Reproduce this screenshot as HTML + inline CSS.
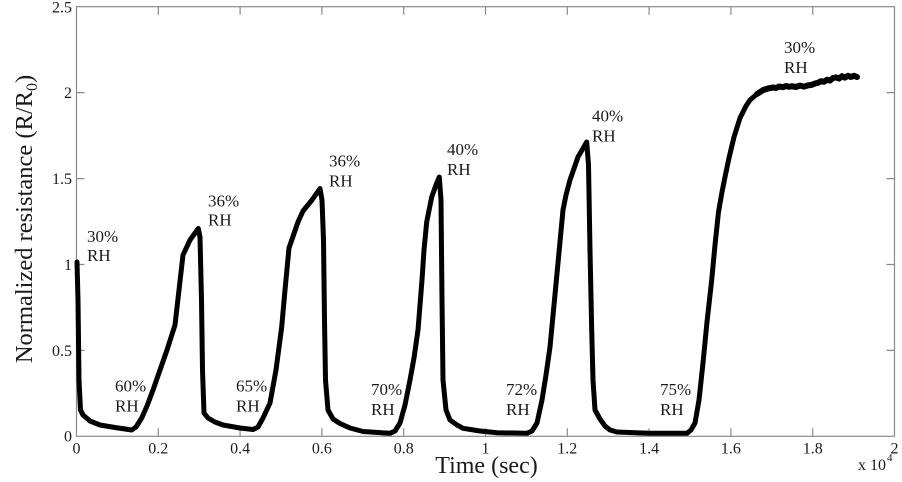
<!DOCTYPE html>
<html>
<head>
<meta charset="utf-8">
<style>
  html, body { margin: 0; padding: 0; background: #ffffff; }
  svg { display: block; }
  text { font-family: "Liberation Serif", "Times New Roman", serif; fill: #1a1a1a; }
</style>
</head>
<body>
<svg width="902" height="482" viewBox="0 0 902 482" xmlns="http://www.w3.org/2000/svg">
  <rect x="0" y="0" width="902" height="482" fill="#ffffff"/>

  <!-- axes box -->
  <g stroke="#8a8a8a" stroke-width="1.2" fill="none">
    <rect x="76.5" y="6.7" width="818" height="429.6"/>
    <path d="M158.3,436.3 v-8 M240.1,436.3 v-8 M321.9,436.3 v-8 M403.7,436.3 v-8 M485.5,436.3 v-8 M567.3,436.3 v-8 M649.1,436.3 v-8 M730.9,436.3 v-8 M812.7,436.3 v-8
             M158.3,6.7 v8 M240.1,6.7 v8 M321.9,6.7 v8 M403.7,6.7 v8 M485.5,6.7 v8 M567.3,6.7 v8 M649.1,6.7 v8 M730.9,6.7 v8 M812.7,6.7 v8"/>
    <path d="M76.5,350.4 h8 M76.5,264.5 h8 M76.5,178.6 h8 M76.5,92.6 h8
             M894.5,350.4 h-8 M894.5,264.5 h-8 M894.5,178.6 h-8 M894.5,92.6 h-8"/>
  </g>

  <!-- data curve -->
  <path fill="none" stroke="#000" stroke-width="5" stroke-linejoin="round" stroke-linecap="round"
    d="M77,262 L78,300 L79,380 L80.5,410 L83,415 L90,421 L100,425 L115,427.5 L131.7,430
       L136,427 L141.7,418 L147,406 L153,390 L160,370 L167,350 L175,325 L179,290 L183,255 L190,240 L198.3,228.5
       L200,237 L201.5,300 L202.5,370 L204,413 L208,418 L215,422 L223,425 L240,428 L253,429.5
       L258,427 L263,418 L270,403 L276,370 L281.7,327 L285,290 L289,248 L298,222 L303,211 L312,200 L320,188.5
       L322,200 L323.5,240 L324.5,320 L325.5,380 L328,410 L333,419 L340,423.5 L350,428 L363,431.5 L390,433.3
       L395,431 L400,423 L405,405 L410,380 L414,358 L418,330 L420,305 L422,280 L424,250 L426.7,222 L431.7,197 L436,185 L439.3,177
       L441,200 L442,300 L443,380 L446,410 L450,420 L457,425 L463,428.3 L480,431 L497,432.7 L527,433.3
       L532,431 L537,423 L542,400 L546,375 L550,347 L554,305 L558,263 L563,210 L566,195 L570,180 L578,157 L586.7,142
       L588.5,165 L590,250 L591.7,330 L593,380 L595,410 L600,419 L605,426 L610,430 L617,432 L650,433.3 L687,433.3
       L691,430 L695,423 L699,400 L703,363 L707,322 L711.7,280 L715,245 L718.5,212 L722,192 L725,177 L729,158 L734,137 L740,118 L746,106 L750,100 L757,94 L763.3,90"/>
  <!-- noisy plateau, thicker -->
  <path fill="none" stroke="#000" stroke-width="6" stroke-linejoin="round" stroke-linecap="round"
    d="M757,94 L763.3,90 L768,88.5 L773,87.5 L776,88 L779,86.5 L783,87.2 L786,86 L789,86.8 L792,86.2 L796,87 L800,85.6 L804,86.6 L808,85.4 L812,84.8 L815,83.5 L818,82.8 L821,81.2 L824,81.8 L827,79.8 L830,80.6 L833,78 L836,77.4 L839,78.6 L842,76.2 L845,77.6 L848,75.8 L851,77 L854,75.8 L857,77"/>

  <!-- RH annotations -->
  <g font-size="17">
    <text x="87" y="242">30%</text><text x="87" y="261">RH</text>
    <text x="115" y="391.5">60%</text><text x="115" y="411.5">RH</text>
    <text x="208" y="206.5">36%</text><text x="208" y="225.5">RH</text>
    <text x="236" y="391.5">65%</text><text x="236" y="411.5">RH</text>
    <text x="329" y="166.5">36%</text><text x="329" y="186.5">RH</text>
    <text x="447" y="155">40%</text><text x="447" y="175">RH</text>
    <text x="371" y="395">70%</text><text x="371" y="415">RH</text>
    <text x="506" y="395">72%</text><text x="506" y="415">RH</text>
    <text x="592" y="121.5">40%</text><text x="592" y="141.5">RH</text>
    <text x="660" y="395">75%</text><text x="660" y="415">RH</text>
    <text x="784" y="53">30%</text><text x="784" y="73">RH</text>
  </g>

  <!-- x tick labels -->
  <g font-size="16" text-anchor="middle">
    <text x="76.5" y="453.5">0</text>
    <text x="158.3" y="453.5">0.2</text>
    <text x="240.1" y="453.5">0.4</text>
    <text x="321.9" y="453.5">0.6</text>
    <text x="403.7" y="453.5">0.8</text>
    <text x="485.5" y="453.5">1</text>
    <text x="567.3" y="453.5">1.2</text>
    <text x="649.1" y="453.5">1.4</text>
    <text x="730.9" y="453.5">1.6</text>
    <text x="812.7" y="453.5">1.8</text>
    <text x="894.5" y="453.5">2</text>
  </g>

  <!-- y tick labels -->
  <g font-size="16" text-anchor="end">
    <text x="72" y="441.5">0</text>
    <text x="72" y="355.8">0.5</text>
    <text x="72" y="269.9">1</text>
    <text x="72" y="184">1.5</text>
    <text x="72" y="98">2</text>
    <text x="72" y="12.3">2.5</text>
  </g>

  <!-- x10^4 multiplier -->
  <text x="858" y="470" font-size="16">x 10</text>
  <text x="887" y="461" font-size="11">4</text>

  <!-- axis titles -->
  <text x="486.5" y="473" font-size="24" text-anchor="middle">Time (sec)</text>
  <text transform="translate(32,219) rotate(-90)" font-size="24.5" text-anchor="middle">Normalized resistance (R/R<tspan font-size="16" dy="5">0</tspan><tspan dy="-5">)</tspan></text>
</svg>
</body>
</html>
